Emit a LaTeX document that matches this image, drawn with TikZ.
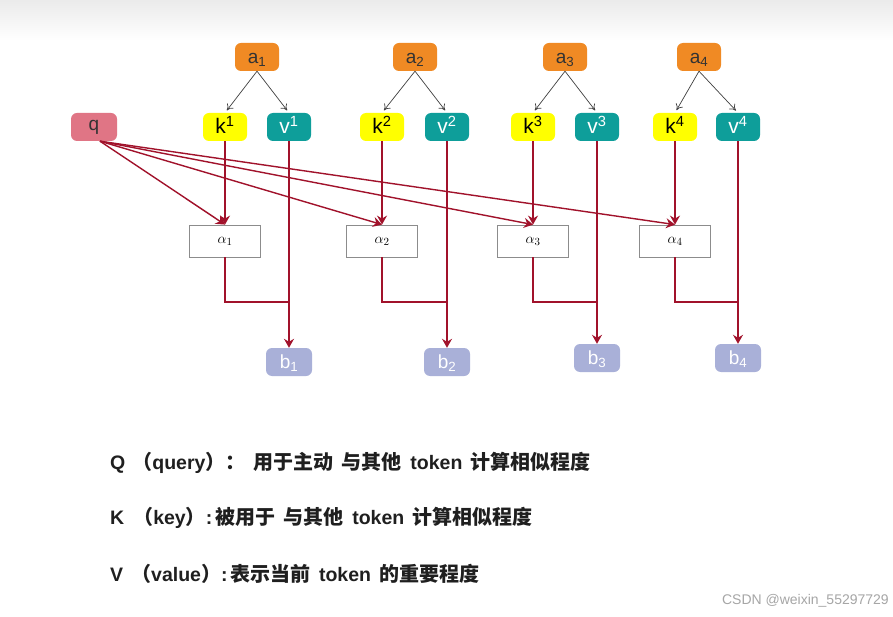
\documentclass[tikz,border=0pt]{standalone}
\usepackage{fontspec}
\setmainfont{Liberation Sans}
\newfontfamily\cjk{Noto Sans CJK SC}
\usetikzlibrary{arrows.meta,calc}
\definecolor{aorange}{RGB}{240,138,36}
\definecolor{kyellow}{RGB}{255,255,0}
\definecolor{vteal}{RGB}{14,158,154}
\definecolor{qpink}{RGB}{224,117,133}
\definecolor{blav}{RGB}{169,176,216}
\definecolor{dred}{RGB}{161,18,43}
\definecolor{garr}{RGB}{64,64,64}
\newcommand\zh[1]{{\cjk\bfseries\fontsize{20}{20}\selectfont #1}}
\newcommand\gap{\hspace{8.5pt}}
\tikzset{
  tok/.style={rounded corners=6pt, minimum width=44pt, minimum height=28pt, inner sep=0pt,
    text height=15pt, text depth=2pt, font=\fontsize{19}{19}\selectfont},
  anode/.style={tok, fill=aorange, text=black!80},
  knode/.style={tok, fill=kyellow, text=black, font=\fontsize{21}{21}\selectfont, text height=16pt, text depth=2pt},
  vnode/.style={tok, fill=vteal, text=white, font=\fontsize{21}{21}\selectfont, text height=16pt, text depth=2pt},
  qnode/.style={tok, fill=qpink, text=black!80, minimum width=46pt, text height=12pt, text depth=4pt},
  bnode/.style={tok, fill=blav, text=white, minimum width=46pt, text height=15pt, text depth=3pt},
  albox/.style={draw=black!45, line width=0.8pt, fill=white, minimum width=71pt, minimum height=32pt, inner sep=0pt, font=\fontsize{15}{15}\selectfont},
  garrow/.style={draw=garr, line width=0.7pt, -{To[length=6pt,width=8pt]}, shorten >=3pt},
  rarrow/.style={draw=dred, line width=1.4pt, -{Stealth[length=9pt,width=10pt,inset=3pt]}},
  rline/.style={draw=dred, line width=1.4pt},
  desc/.style={anchor=west, inner sep=0pt, font=\bfseries\fontsize{19.5}{20}\selectfont, text=black!88}
}
\begin{document}
\begin{tikzpicture}[x=1pt,y=-1pt]
\useasboundingbox (0,0) rectangle (893,617);
\fill[white] (0,0) rectangle (893,617);
\shade[top color=black!8, bottom color=white] (0,0) rectangle (893,40);

% top a nodes
\node[anode] (a1) at (257,57) {a\textsubscript{1}};
\node[anode] (a2) at (415,57) {a\textsubscript{2}};
\node[anode] (a3) at (565,57) {a\textsubscript{3}};
\node[anode] (a4) at (699,57) {a\textsubscript{4}};

% q, k, v
\node[qnode] (q) at (94,127) {q};
\node[knode] (k1) at (225,127) {k\textsuperscript{1}};
\node[vnode] (v1) at (289,127) {v\textsuperscript{1}};
\node[knode] (k2) at (382,127) {k\textsuperscript{2}};
\node[vnode] (v2) at (447,127) {v\textsuperscript{2}};
\node[knode] (k3) at (533,127) {k\textsuperscript{3}};
\node[vnode] (v3) at (597,127) {v\textsuperscript{3}};
\node[knode] (k4) at (675,127) {k\textsuperscript{4}};
\node[vnode] (v4) at (738,127) {v\textsuperscript{4}};

% alpha boxes
\node[albox] (al1) at (225,241) {$\alpha_1$};
\node[albox] (al2) at (382,241) {$\alpha_2$};
\node[albox] (al3) at (533,241) {$\alpha_3$};
\node[albox] (al4) at (675,241) {$\alpha_4$};

% b nodes
\node[bnode] (b1) at (289,362) {b\textsubscript{1}};
\node[bnode] (b2) at (447,362) {b\textsubscript{2}};
\node[bnode] (b3) at (597,358) {b\textsubscript{3}};
\node[bnode] (b4) at (738,358) {b\textsubscript{4}};

% junctions
\coordinate (j1) at (289,302);
\coordinate (j2) at (447,302);
\coordinate (j3) at (597,302);
\coordinate (j4) at (738,302);

% gray arrows a -> k, v
\foreach \i in {1,2,3,4}{
  \draw[garrow] (a\i.south) -- (k\i.north);
  \draw[garrow] (a\i.south) -- (v\i.north);
}

% red connectors
\foreach \i in {1,2,3,4}{
  \draw[rarrow] (k\i.south) -- (al\i.north);
  \draw[rarrow] ($(q.south)+(6,0)$) -- (al\i.north);
  \draw[rline] (al\i.south) |- (j\i);
  \draw[rarrow] (v\i.south) -- (b\i.north);
}

% descriptions
\node[desc] (t1) at (110,463) {Q\hspace{7pt}\zh{（}query\zh{）：}\hspace{8pt}\zh{用于主动}\gap\zh{与其他}\gap token\gap\zh{计算相似程度}};
\node[desc] (t2) at (110,518) {K\hspace{9pt}\zh{（}key\zh{）}:\hspace{3pt}\zh{被用于}\gap\zh{与其他}\gap token\gap\zh{计算相似程度}};
\node[desc] (t3) at (110,574) {V\hspace{8pt}\zh{（}value\zh{）}:\hspace{3pt}\zh{表示当前}\gap token\gap\zh{的重要程度}};

% watermark
\node[anchor=east, inner sep=0pt, text=black!35, font=\fontsize{14}{14}\selectfont] (wm) at (889,601) {CSDN @weixin\_55297729};
\end{tikzpicture}
\end{document}
